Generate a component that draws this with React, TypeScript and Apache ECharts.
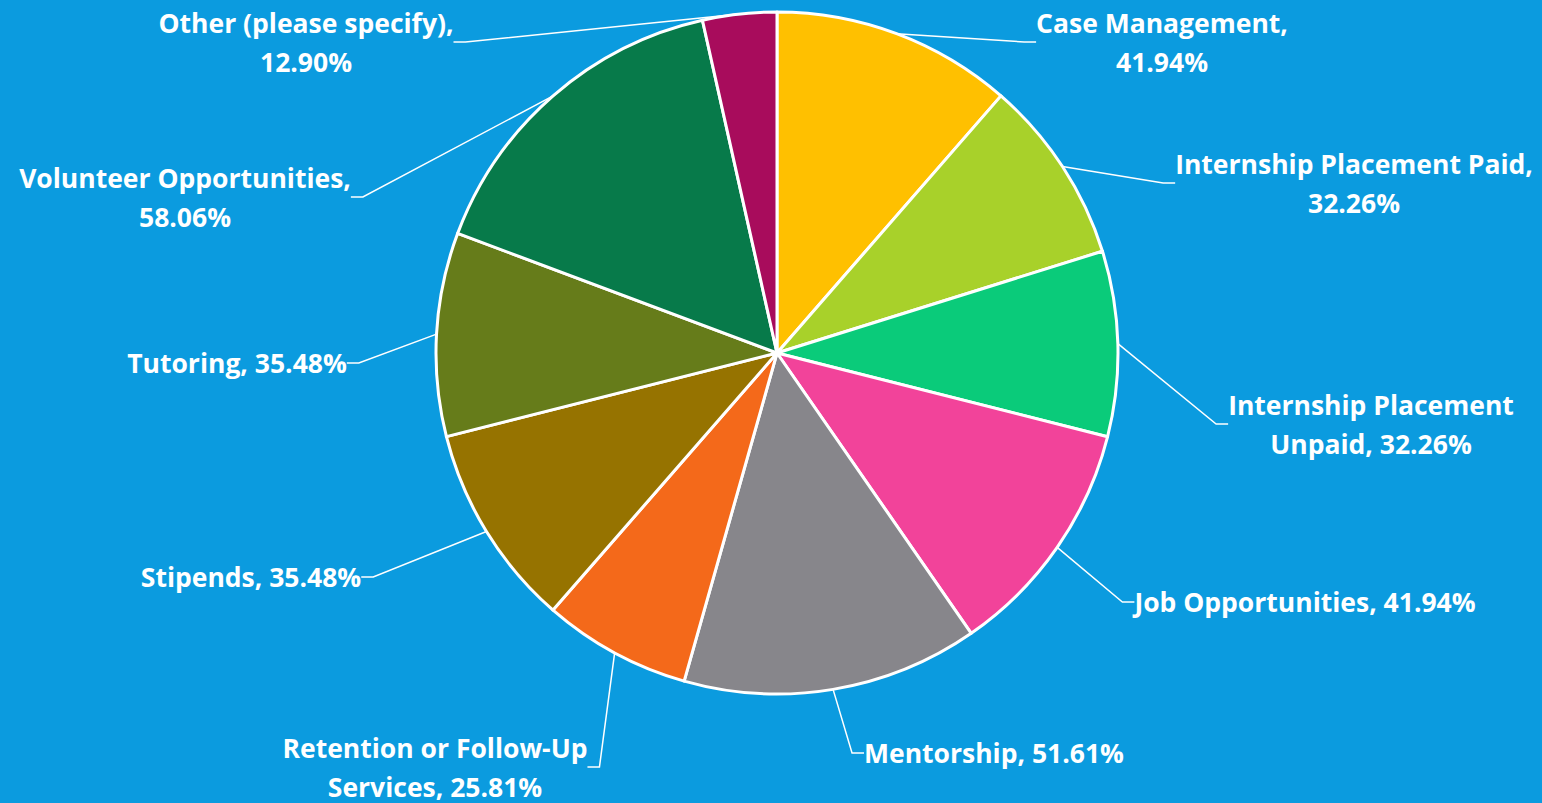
import React, { useEffect, useRef } from "react";
import * as echarts from "echarts";

const categories = [
  "Case Management",
  "Internship Placement Paid",
  "Internship Placement Unpaid",
  "Job Opportunities",
  "Mentorship",
  "Retention or Follow-Up Services",
  "Stipends",
  "Tutoring",
  "Volunteer Opportunities",
  "Other (please specify)",
];
const values = [41.94, 32.26, 32.26, 41.94, 51.61, 25.81, 35.48, 35.48, 58.06, 12.9];
const labelTexts = [
  "Case Management,\n41.94%",
  "Internship Placement Paid,\n32.26%",
  "Internship Placement\nUnpaid, 32.26%",
  "Job Opportunities, 41.94%",
  "Mentorship, 51.61%",
  "Retention or Follow-Up\nServices, 25.81%",
  "Stipends, 35.48%",
  "Tutoring, 35.48%",
  "Volunteer Opportunities,\n58.06%",
  "Other (please specify),\n12.90%",
];
const colors = [
  "#FFC000",
  "#A8D12A",
  "#0ACB7A",
  "#F2439A",
  "#87868B",
  "#F4691A",
  "#967300",
  "#667C1A",
  "#077A4A",
  "#A80C5C",
];
// label block centres (layout only)
const labelPos: [number, number][] = [
  [1162, 42],
  [1354, 183],
  [1371, 424],
  [1305, 602],
  [994, 753],
  [435, 767],
  [251, 577],
  [237, 363],
  [185, 197],
  [306, 42],
];

export default function App() {
  const ref = useRef<HTMLDivElement>(null);
  useEffect(() => {
    document.body.style.margin = "0";
    const chart = echarts.init(ref.current!, undefined, { renderer: "svg" });
    chart.setOption({
      animation: false,
      backgroundColor: "#0B9BDF",
      series: [
        {
          type: "pie",
          center: [777, 353],
          radius: 341,
          startAngle: 90,
          clockwise: true,
          data: categories.map((c, i) => ({
            name: c,
            value: values[i],
            itemStyle: { color: colors[i] },
            label: { formatter: labelTexts[i] },
          })),
          itemStyle: { borderColor: "#ffffff", borderWidth: 3 },
          label: {
            show: true,
            position: "outside",
            color: "#ffffff",
            fontFamily: "Open Sans",
            fontWeight: "bold",
            fontSize: 26.5,
            lineHeight: 39,
          },
          labelLine: {
            show: true,
            length: 20,
            length2: 12,
            lineStyle: { color: "#ffffff", width: 1.5 },
          },
          labelLayout: (p: any) => {
            const pos = labelPos[p.dataIndex];
            return { x: pos[0], y: pos[1], align: "center", verticalAlign: "middle" };
          },
        },
      ],
    });
    return () => chart.dispose();
  }, []);
  return <div ref={ref} style={{ width: 1542, height: 803 }} />;
}
